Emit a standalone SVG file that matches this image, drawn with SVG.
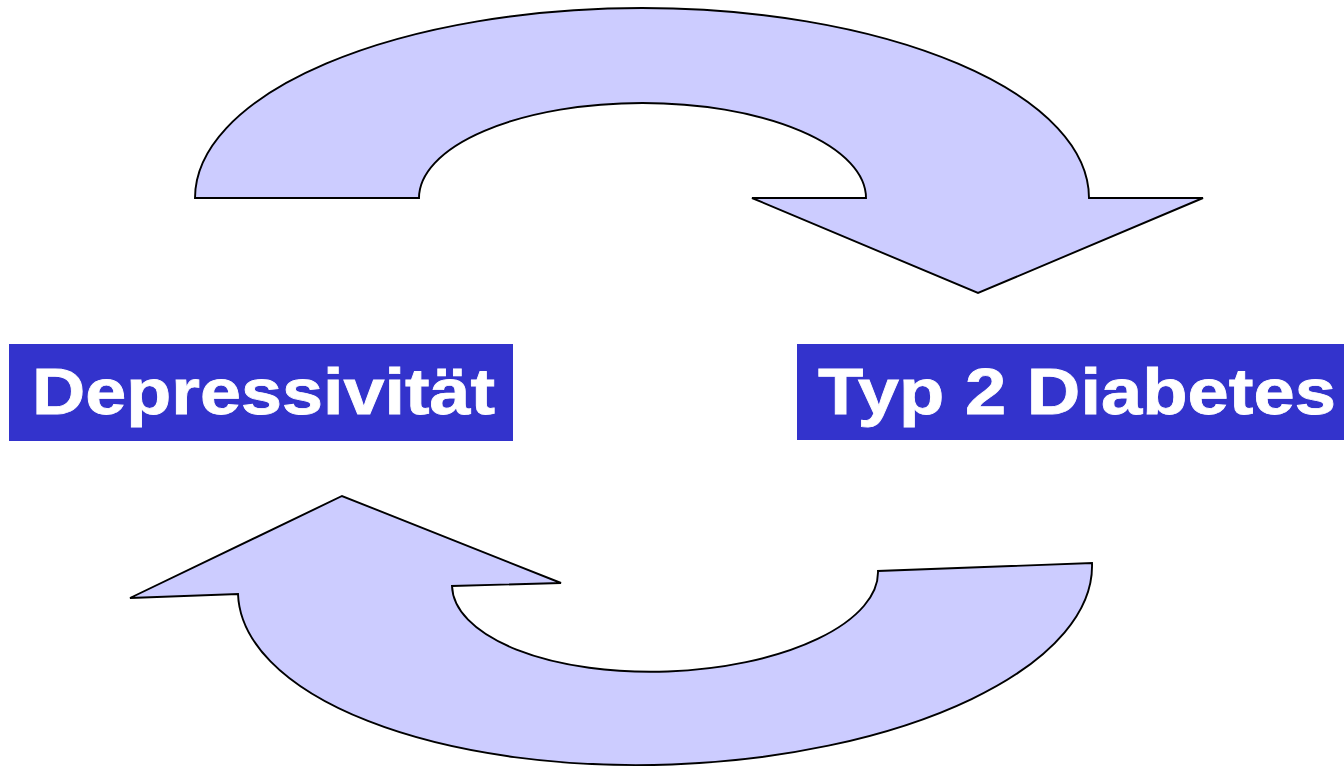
<svg xmlns="http://www.w3.org/2000/svg" width="1344" height="767" viewBox="0 0 1344 767">
  <style>
    .arrow { fill: #CCCCFF; stroke: #000000; stroke-width: 1.9; stroke-linejoin: miter; }
    .box { fill: #3333CC; }
    .label { fill: #FFFFFF; stroke: #FFFFFF; stroke-width: 0.8; font-family: "Liberation Sans", Arial, sans-serif; font-weight: bold; font-size: 65px; }
  </style>
  <rect width="1344" height="767" fill="#FFFFFF"/>

  <g id="connectors">
    <!-- curved arrow over the top, pointing down to the right -->
    <path id="arrow-top" class="arrow"
          d="M 195 198 A 447 190 0 0 1 1089 198 L 1203 198 L 978 293 L 752 198 L 866 198 A 223.5 95 0 0 0 419 198 Z"/>
    <!-- curved arrow along the bottom, pointing up to the left -->
    <path id="arrow-bottom" class="arrow"
          d="M 1092 563 A 427 186 -2.08 0 1 238 594 L 130 598 L 342 496 L 561 583 L 452 586 A 213 93 -2.08 0 0 878 571 Z"/>
  </g>

  <g id="node-depressivitaet">
    <rect class="box" x="9" y="344" width="504" height="97"/>
    <text class="label" x="32" y="414" textLength="463" lengthAdjust="spacingAndGlyphs">Depressivität</text>
  </g>

  <g id="node-diabetes">
    <rect class="box" x="797" y="344" width="547" height="96"/>
    <text class="label" x="818" y="414" textLength="518" lengthAdjust="spacingAndGlyphs">Typ 2 Diabetes</text>
  </g>
</svg>
